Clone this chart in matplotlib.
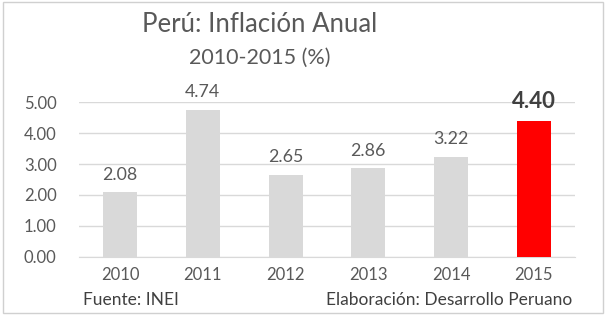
import matplotlib
matplotlib.use("Agg")
import matplotlib.pyplot as plt
from matplotlib.patches import Rectangle

years = ["2010", "2011", "2012", "2013", "2014", "2015"]
inflation = [2.08, 4.74, 2.65, 2.86, 3.22, 4.40]
bar_colors = ["#d9d9d9"] * 5 + ["#ff0000"]
yticks = [0, 1, 2, 3, 4, 5]

plt.rcParams['font.family'] = ['Lato', 'DejaVu Sans']

fig = plt.figure(figsize=(6.06, 3.16), dpi=100)
fig.patches.append(Rectangle((0.005, 0.01), 0.99, 0.985, transform=fig.transFigure,
                             fill=False, edgecolor="#d0d0d0", linewidth=1.0))

ax = fig.add_axes([0.130, 0.187, 0.819, 0.490])
x = list(range(len(years)))
ax.bar(x, inflation, width=0.41, color=bar_colors, zorder=3)
ax.set_xlim(-0.5, len(years) - 0.5)
ax.set_ylim(0, 5)
ax.set_yticks(yticks)
ax.set_yticklabels([f"{v:.2f}" for v in yticks])
ax.set_xticks(x)
ax.set_xticklabels(years)
ax.tick_params(axis="both", length=0, labelsize=12, colors="#595959")
ax.tick_params(axis="y", pad=16)
ax.tick_params(axis="x", pad=7)
ax.grid(axis="y", color="#d9d9d9", linewidth=1.0, zorder=0)
for s in ["top", "right", "left"]:
    ax.spines[s].set_visible(False)
ax.spines["bottom"].set_color("#d9d9d9")

for i, v in enumerate(inflation):
    if i == len(inflation) - 1:
        ax.annotate(f"{v:.2f}", (i, v), xytext=(0, 6), textcoords="offset points",
                    ha="center", va="bottom", fontsize=16, fontweight="bold",
                    color="#404040", annotation_clip=False)
    else:
        ax.annotate(f"{v:.2f}", (i, v), xytext=(0, 7), textcoords="offset points",
                    ha="center", va="bottom", fontsize=12.8, color="#595959",
                    annotation_clip=False)

fig.text(0.429, 0.924, "Perú: Inflación Anual", ha="center", va="center",
         fontsize=18.5, color="#595959")
fig.text(0.429, 0.816, "2010-2015 (%)", ha="center", va="center",
         fontsize=15.5, color="#595959")
fig.text(0.137, 0.05, "Fuente: INEI", ha="left", va="center",
         fontsize=12.5, color="#404040")
fig.text(0.944, 0.05, "Elaboración: Desarrollo Peruano", ha="right", va="center",
         fontsize=12.5, color="#404040")

fig.savefig("out.png", dpi=100)
